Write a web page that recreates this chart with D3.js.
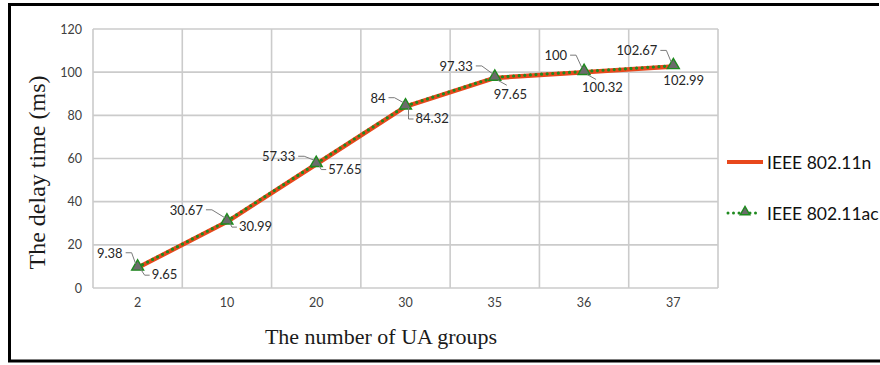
<!DOCTYPE html>
<html>
<head>
<meta charset="utf-8">
<script src="https://cdn.jsdelivr.net/npm/d3@7"></script>
<style>
  html, body { margin: 0; padding: 0; background: #fff; }
  svg { display: block; }
</style>
</head>
<body>
<svg id="chart" width="880" height="365"></svg>
<script>
// Number of UA groups on the x axis
const categories = ["2", "10", "20", "30", "35", "36", "37"];
// Delay time (ms) for each standard
const delayN  = [9.38, 30.67, 57.33, 84, 97.33, 100, 102.67];
const delayAc = [9.65, 30.99, 57.65, 84.32, 97.65, 100.32, 102.99];
const yTicks = [0, 20, 40, 60, 80, 100, 120];
const seriesNames = ["IEEE 802.11n", "IEEE 802.11ac"];

// Label placement (dx of text end / start, dy of baseline) relative to each point
const labelOffN  = [[-15, -10], [-24, -7], [-21, -3], [-20, -4], [-22, -7], [-17, -12], [-16, -11]];
const labelOffAc = [[14, 12], [12, 10], [12, 10], [10, 17], [-1, 22], [-2, 21], [-10, 19]];

const svg = d3.select("#chart");
const W = 880, H = 365;
const plot = { left: 93, right: 718, top: 29, bottom: 288 };

const x = d3.scaleBand().domain(categories).range([plot.left, plot.right]);
const y = d3.scaleLinear().domain([0, 120]).range([plot.bottom, plot.top]);
const cx = c => x(c) + x.bandwidth() / 2;

const tickFont = "Lato, 'Open Sans', sans-serif";
const gridColor = "#cbcbcb";
const orange = "#e8481c";
const green = "#1f8a1f";

// outer frame: top, left, bottom
const frame = svg.append("g").attr("stroke", "#000").attr("stroke-width", 3);
frame.append("line").attr("x1", 9).attr("x2", W - 1).attr("y1", 4.5).attr("y2", 4.5);
frame.append("line").attr("x1", 9.5).attr("x2", 9.5).attr("y1", 3).attr("y2", 362);
frame.append("line").attr("x1", 8).attr("x2", W).attr("y1", 361).attr("y2", 361);

// gridlines
const grid = svg.append("g").attr("stroke", gridColor).attr("stroke-width", 1.6);
grid.selectAll("line.h").data(yTicks).join("line")
  .attr("x1", plot.left).attr("x2", plot.right)
  .attr("y1", d => y(d)).attr("y2", d => y(d));
grid.selectAll("line.v").data(categories.concat(["__end"])).join("line")
  .attr("x1", d => d === "__end" ? plot.right : x(d))
  .attr("x2", d => d === "__end" ? plot.right : x(d))
  .attr("y1", plot.top).attr("y2", plot.bottom);

// y axis tick labels
const yAxis = svg.append("g").attr("transform", `translate(${plot.left - 11},0)`)
  .call(d3.axisLeft(y).tickValues(yTicks).tickSize(0).tickPadding(0));
yAxis.select(".domain").remove();
yAxis.selectAll("text").attr("font-family", tickFont).attr("font-size", 12.5).attr("fill", "#404040");

// x axis tick labels
const xAxis = svg.append("g").attr("transform", `translate(0,${plot.bottom + 10})`)
  .call(d3.axisBottom(x).tickSize(0).tickPadding(0));
xAxis.select(".domain").remove();
xAxis.selectAll("text").attr("font-family", tickFont).attr("font-size", 12.5).attr("fill", "#404040");

// axis titles
svg.append("text")
  .attr("transform", `translate(45,${(plot.top + plot.bottom) / 2 + 14}) rotate(-90)`)
  .attr("text-anchor", "middle")
  .attr("font-family", "'Liberation Serif', 'DejaVu Serif', serif")
  .attr("font-size", 24).attr("fill", "#1a1a1a")
  .text("The delay time (ms)");
svg.append("text")
  .attr("x", 381).attr("y", 344)
  .attr("text-anchor", "middle")
  .attr("font-family", "'Liberation Serif', 'DejaVu Serif', serif")
  .attr("font-size", 22).attr("fill", "#1a1a1a")
  .text("The number of UA groups");

// series lines
const lineN = d3.line().x((d, i) => cx(categories[i])).y(d => y(d));
svg.append("path").datum(delayN)
  .attr("d", lineN).attr("fill", "none")
  .attr("stroke", orange).attr("stroke-width", 4.5).attr("stroke-linejoin", "round");
svg.append("path").datum(delayAc)
  .attr("d", lineN).attr("fill", "none")
  .attr("stroke", green).attr("stroke-width", 3.2)
  .attr("stroke-linecap", "round").attr("stroke-dasharray", "0 5.6");

// triangle markers for 802.11ac
const tri = d3.symbol().type(d3.symbolTriangle).size(62);
svg.selectAll("path.marker").data(delayAc).join("path")
  .attr("class", "marker")
  .attr("d", tri)
  .attr("transform", (d, i) => `translate(${cx(categories[i])},${y(d) - 0.5})`)
  .attr("fill", "#6b6b6b").attr("stroke", green).attr("stroke-width", 1.4);

// data labels with leader lines
const labelFont = tickFont;
const leader = "#7a7a7a";
delayN.forEach((v, i) => {
  const px = cx(categories[i]), py = y(v);
  const tx = px + labelOffN[i][0], ty = py + labelOffN[i][1];
  svg.append("text").attr("x", tx).attr("y", ty)
    .attr("text-anchor", "end")
    .attr("font-family", labelFont).attr("font-size", 13).attr("fill", "#262626")
    .text(v);
  const ly = ty - 5;
  svg.append("path")
    .attr("d", `M${tx + 3},${ly}H${tx + 9}L${px - 2},${py - 4}`)
    .attr("fill", "none").attr("stroke", leader).attr("stroke-width", 1);
});
delayAc.forEach((v, i) => {
  const px = cx(categories[i]), py = y(v);
  const tx = px + labelOffAc[i][0], ty = py + labelOffAc[i][1];
  svg.append("text").attr("x", tx).attr("y", ty)
    .attr("text-anchor", "start")
    .attr("font-family", labelFont).attr("font-size", 13).attr("fill", "#262626")
    .text(v);
  if (labelOffAc[i][0] > 5) {
    svg.append("path")
      .attr("d", `M${px + 3},${py + 2}L${tx - 7},${ty - 4}H${tx - 2}`)
      .attr("fill", "none").attr("stroke", leader).attr("stroke-width", 1);
  } else if (labelOffAc[i][1] > 19) {
    svg.append("path")
      .attr("d", `M${px + 3},${py + 3}L${px + 12},${py + 8}`)
      .attr("fill", "none").attr("stroke", leader).attr("stroke-width", 1);
  }
});

// legend
const legend = svg.append("g");
legend.append("line").attr("x1", 727).attr("x2", 763).attr("y1", 162).attr("y2", 162)
  .attr("stroke", orange).attr("stroke-width", 4);
legend.append("text").attr("x", 767).attr("y", 168.5)
  .attr("font-family", tickFont).attr("font-size", 17.5).attr("fill", "#111")
  .text(seriesNames[0]);
legend.append("line").attr("x1", 728).attr("x2", 758).attr("y1", 213).attr("y2", 213)
  .attr("stroke", green).attr("stroke-width", 3)
  .attr("stroke-linecap", "round").attr("stroke-dasharray", "0 5.5");
legend.append("path").attr("d", d3.symbol().type(d3.symbolTriangle).size(40))
  .attr("transform", "translate(745,212)")
  .attr("fill", "#6b6b6b").attr("stroke", green).attr("stroke-width", 1.4);
legend.append("text").attr("x", 767).attr("y", 219.5)
  .attr("font-family", tickFont).attr("font-size", 17.5).attr("fill", "#111")
  .text(seriesNames[1]);
</script>
</body>
</html>
